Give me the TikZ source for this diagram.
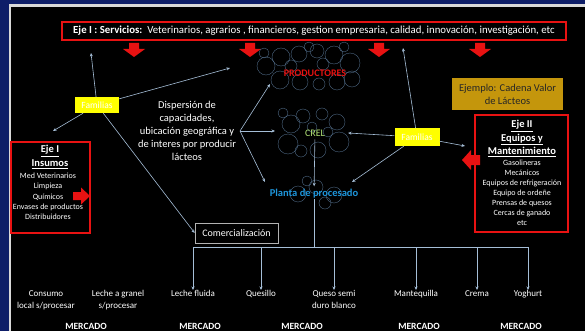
\documentclass[tikz,border=0pt]{standalone}
\usepackage{fontspec}
\setmainfont{Carlito}
\usetikzlibrary{arrows.meta}

\definecolor{navyframe}{RGB}{14,30,104}
\definecolor{redline}{RGB}{232,18,18}
\definecolor{famyellow}{RGB}{255,255,0}
\definecolor{goldbox}{RGB}{196,150,12}
\definecolor{linkblue}{RGB}{165,190,215}
\definecolor{circgrey}{RGB}{85,115,145}
\definecolor{plantablue}{RGB}{30,150,220}
\definecolor{crelgreen}{RGB}{180,230,120}

\begin{document}
\begin{tikzpicture}[x=1pt, y=-1pt,
    link/.style={draw=linkblue, line width=0.6pt},
    conn/.style={link, -{Stealth[length=3.5pt, width=3pt]}},
    redbox/.style={draw=redline, line width=1.5pt, fill=black, inner sep=0pt},
    famil/.style={fill=famyellow, text=white, inner sep=0pt, minimum width=44, minimum height=16, font=\fontsize{9.5}{11}\selectfont},
    txt/.style={text=white, align=center, inner sep=0pt},
    prod/.style={txt, anchor=north, font=\fontsize{9}{12}\selectfont},
    market/.style={txt, font=\fontsize{9.5}{11}\selectfont\bfseries},
    bubble/.style={draw=circgrey, line width=0.35pt}]

    % Frame
    \useasboundingbox (0,0) rectangle (585,331);
    \fill[navyframe] (0,0) rectangle (585,331);
    \fill[white!85!black] (8.5,4.5) rectangle (585,331);
    \fill[black] (11,7) rectangle (585,331);

    % Eje I services bar
    \node[redbox, minimum width=504, minimum height=18, txt, font=\fontsize{10.8}{12}\selectfont] (servicios) at (314,31)
        {\textbf{Eje I : Servicios:}\ \ Veterinarios, agrarios , financieros, gestion empresaria, calidad, innovación, investigación, etc};
    \foreach \x in {134,250,379,480}
        \fill[redline] (\x-5,43) -- (\x+5,43) -- (\x+5,49) -- (\x+11,49) -- (\x,57) -- (\x-11,49) -- (\x-5,49) -- cycle;

    % Bubble clusters
    \foreach \cx/\cy/\r in {266/66/9, 281/57/9, 299/54/8, 317/51/7, 334/55/9, 350/63/10, 352/79/8, 337/82/8, 319/84/6,
                            300/82/8, 280/80/9, 291/66/6, 323/64/6, 309/47/5, 344/47/5, 264/53/5}
        \draw[bubble] (\cx,\cy) circle (\r);
    \foreach \cx/\cy/\r in {291/124/9, 288/144/10, 303/116/7, 322/114/6, 337/122/8, 339/142/10, 318/150/8,
                            301/151/6, 312/127/5, 283/113/5, 328/132/5}
        \draw[bubble] (\cx,\cy) circle (\r);
    \foreach \cx/\cy/\r in {298/194/8, 316/187/7, 334/195/8, 307/181/5, 325/203/6}
        \draw[bubble] (\cx,\cy) circle (\r);

    % Actors
    \node[txt, text=redline, font=\fontsize{10}{12}\selectfont\bfseries] (productores) at (315,73) {PRODUCTORES};
    \node[txt, text=crelgreen, font=\fontsize{10}{12}\selectfont] (crel) at (315,133) {CREL};
    \node[txt, text=plantablue, font=\fontsize{10.5}{12}\selectfont\bfseries] (planta) at (314,194) {Planta de procesado};

    \node[famil] (famL) at (97,105) {Familias};
    \node[famil, minimum width=45, minimum height=18] (famR) at (417,137) {Familias};

    \node[txt, font=\fontsize{10.5}{13}\selectfont] (dispersion) at (187,131)
        {Dispersión de\\capacidades,\\ubicación geográfica y\\de interes por producir\\lácteos};

    \node[fill=goldbox, text=black!85, align=center, inner sep=0pt, minimum width=111, minimum height=32,
          font=\fontsize{10.5}{13}\selectfont] (ejemplo) at (507.5,94) {Ejemplo: Cadena Valor\\de Lácteos};

    % Eje I Insumos
    \node[redbox, minimum width=79, minimum height=91] (insumos) at (50.5,187.5) {};
    \node[txt, font=\fontsize{10.5}{14}\selectfont\bfseries] (insumoshead) at (50,157) {\underline{Eje I}\\\underline{Insumos}};
    \node[txt, font=\fontsize{8}{10.3}\selectfont] (insumoslist) at (48,196.5)
        {Med Veterinarios\\Limpieza\\Químicos\\Envases de productos\\Distribuidores};
    \fill[redline] (73,192) -- (81,192) -- (81,187.5) -- (90,196) -- (81,204.5) -- (81,200) -- (73,200) -- cycle;

    % Eje II Equipos y Mantenimiento
    \node[redbox, minimum width=93, minimum height=117] (equipos) at (521.5,173.5) {};
    \node[txt, font=\fontsize{10.5}{13.5}\selectfont\bfseries] (equiposhead) at (522,138.5)
        {\underline{Eje II}\\\underline{Equipos y}\\\underline{Mantenimiento}};
    \node[txt, font=\fontsize{8}{10}\selectfont] (equiposlist) at (522,193)
        {Gasolineras\\Mecánicos\\Equipos de refrigeración\\Equipo de ordeñe\\Prensas de quesos\\Cercas de ganado\\etc};
    \fill[redline] (480,155) -- (471,155) -- (471,150) -- (462,160) -- (471,170) -- (471,165) -- (480,165) -- cycle;

    % Comercialización
    \node[draw=white!70!black, line width=0.6pt, fill=black, text=white, minimum width=83, minimum height=20,
          inner sep=0pt, font=\fontsize{10}{12}\selectfont] (comer) at (236.5,233) {Comercialización};

    % Connector ends
    \coordinate (famup) at (91,53);
    \coordinate (famdl) at (53,131);
    \coordinate (famur) at (230,68);
    \coordinate (fan) at (240,131);
    \coordinate (toprod) at (270,84);
    \coordinate (tocrel) at (275,131);
    \coordinate (toplanta) at (265,182);
    \coordinate (crelin) at (348,133);
    \coordinate (plantin) at (352,182);
    \coordinate (famrup) at (403,48);
    \coordinate (famrr) at (465,146);
    \coordinate (busL) at (193,247);
    \coordinate (busR) at (528,247);

    % Connections
    \draw[conn] (famL) -- (famup);
    \draw[conn] (famL) -- (famdl);
    \draw[conn] (famL) -- (famur);
    \draw[conn] (famL) -- (comer.west);

    \draw[conn] (fan) -- (toprod);
    \draw[conn] (fan) -- (tocrel);
    \draw[conn] (fan) -- (toplanta);

    \draw[conn] (famR) -- (crelin);
    \draw[conn] (famR) -- (plantin);
    \draw[conn] (famR) -- (famrup);
    \draw[conn] (famR) -- (famrr);

    \draw[conn, shorten <=3pt, shorten >=3pt] (crel) -- (planta);

    % Products
    \node[prod] (consumo) at (46,290) {Consumo\\local s/procesar};
    \node[prod] (granel) at (118,290) {Leche a granel\\s/procesar};
    \node[prod] (fluida) at (193,290) {Leche fluida};
    \node[prod] (quesillo) at (261,290) {Quesillo};
    \node[prod] (queso) at (334,290) {Queso semi\\duro blanco};
    \node[prod] (mantequilla) at (416,290) {Mantequilla};
    \node[prod] (crema) at (477,290) {Crema};
    \node[prod] (yoghurt) at (528,290) {Yoghurt};

    \draw[link] (planta.south) -- (planta.south |- busL);
    \draw[link] (busL) -- (busR);
    \foreach \p in {fluida,quesillo,queso,mantequilla,crema,yoghurt}
        \draw[conn] (\p.north |- busL) -- (\p.north);

    % Markets
    \foreach \x [count=\i] in {86,200,302,419,521}
        \node[market] (mercado\i) at (\x,326) {MERCADO};

\end{tikzpicture}
\end{document}
